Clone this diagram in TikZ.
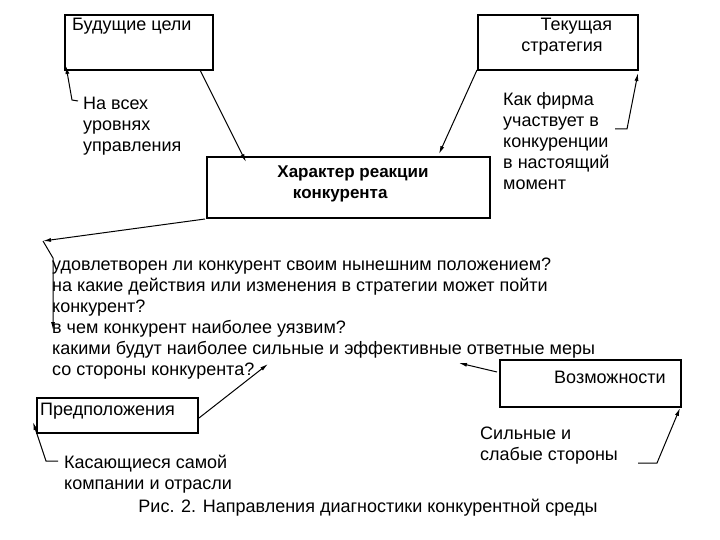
\documentclass[tikz,border=0pt]{standalone}
\usepackage{fontspec}
\setmainfont{Liberation Sans}
\usetikzlibrary{arrows.meta}
\begin{document}
\begin{tikzpicture}[x=1pt,y=-1pt,
  box/.style={draw,line width=1.4pt,inner sep=0pt},
  txt/.style={font=\fontsize{18}{21}\selectfont,align=left,inner sep=0pt},
  ln/.style={line width=1pt},
  arr/.style={ln,-{Latex[length=8pt,width=4pt]}}]
\useasboundingbox (0,0) rectangle (720,540);
% boxes
\draw[box] (65,15) rectangle (213,70);
\node[txt,anchor=north west] (t1) at (72,18) {Будущие цели};
\draw[box] (478,15) rectangle (638,70);
\node[txt,anchor=north,align=center] (t2) at (562,18) {\hspace*{1.6em}Текущая\\стратегия};
\draw[box] (207,157) rectangle (490,218);
\node[txt,font=\fontsize{17}{21}\bfseries,align=center] (t3) at (353,184) {Характер реакции\\\hspace*{-1.5em}конкурента};
\draw[box] (500,360) rectangle (681,407);
\node[txt,anchor=north] (t4) at (610,371) {Возможности};
\draw[box] (37,398) rectangle (198,433);
\node[txt,anchor=west] (t5) at (40,411) {Предположения};
% texts
\node[txt,anchor=north west] (a1) at (83,97) {На всех\\уровнях\\управления};
\node[txt,anchor=north west] (a2) at (503,92) {Как фирма\\участвует в\\конкуренции\\в настоящий\\момент};
\node[txt,anchor=north west] (q) at (52,258) {удовлетворен ли конкурент своим нынешним положением?\\на какие действия или изменения в стратегии может пойти\\конкурент?\\в чем конкурент наиболее уязвим?\\какими будут наиболее сильные и эффективные ответные меры\\со стороны конкурента?};
\node[txt,anchor=north west] (a3) at (480,427) {Сильные и\\слабые стороны};
\node[txt,anchor=north west] (a4) at (64,455) {Касающиеся самой\\компании и отрасли};
\node[txt,anchor=north] (cap) at (368,499) {Рис. 2. Направления диагностики конкурентной среды};
% connectors
\coordinate (c1) at (72,100); \coordinate (c1t) at (78,101);
\draw[arr] (c1t) -- (c1) -- (66,66);
\draw[arr] (200,70) -- (246,162);
\draw[arr] (477,70) -- (439,154);
\coordinate (c2) at (615,129); \coordinate (c2t) at (627,129);
\draw[arr] (c2) -- (c2t) -- (638,73);
\coordinate (c3) at (43,241);
\draw[arr] (205,219) -- (c3);
\draw[arr] (c3) -- (53,258) -- (53,330);
\draw[arr] (199,418) -- (268,364);
\draw[arr] (497,372) -- (459,363);
\coordinate (c4) at (46,461); \coordinate (c4t) at (58,461);
\draw[arr] (c4t) -- (c4) -- (33,422);
\coordinate (c5) at (638,463); \coordinate (c5t) at (657,463);
\draw[arr] (c5) -- (c5t) -- (680,408);
\end{tikzpicture}
\end{document}
